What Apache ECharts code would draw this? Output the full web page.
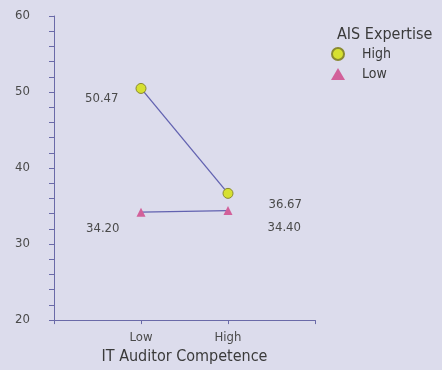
<!DOCTYPE html>
<html><head><meta charset="utf-8">
<script src="https://cdn.jsdelivr.net/npm/echarts@6/dist/echarts.min.js"></script>
<style>html,body{margin:0;padding:0;background:#dcdcec;}#c{width:442px;height:370px;}</style>
</head><body><div id="c"></div>
<script>
var categories = ['Low', 'High'];
var categoryPos = [1, 2];
var seriesNames = ['High', 'Low'];
var highValues = [50.47, 36.67];
var lowValues = [34.20, 34.40];
var legendTitle = 'AIS Expertise';
var xAxisName = 'IT Auditor Competence';

var FONT = '"DejaVu Sans Condensed", "Liberation Sans Narrow", sans-serif';
var chart = echarts.init(document.getElementById('c'));

function build(vals, positions) {
  return vals.map(function (v, i) {
    var p = positions[i];
    return {
      value: [categoryPos[i], v],
      label: {
        show: true,
        position: p.pos,
        offset: p.off,
        formatter: function () { return v.toFixed(2); },
        color: '#4a4a4a', fontSize: 13, fontFamily: FONT
      }
    };
  });
}

chart.setOption({
  backgroundColor: '#dcdcec',
  animation: false,
  title: {
    text: legendTitle, left: 332, top: 22,
    textStyle: { fontSize: 16, fontWeight: 'normal', color: '#3a3a3a', fontFamily: FONT }
  },
  legend: {
    orient: 'vertical', left: 326, top: 42, itemGap: 6, itemWidth: 14, itemHeight: 12,
    data: [
      { name: seriesNames[0], icon: 'circle' },
      { name: seriesNames[1], icon: 'triangle' }
    ],
    textStyle: { fontSize: 14, color: '#3a3a3a', fontFamily: FONT, padding: [0, 0, 0, 12] }
  },
  grid: { left: 54, top: 16, right: 127, bottom: 48 },
  xAxis: {
    type: 'value', min: 0, max: 3, interval: 1,
    name: xAxisName, nameLocation: 'middle', nameGap: 27,
    nameTextStyle: { fontSize: 16, color: '#3a3a3a', fontFamily: FONT },
    axisLine: { lineStyle: { color: '#6a6aa8', width: 1 } },
    axisTick: { show: true, length: 4, lineStyle: { color: '#6a6aa8' } },
    axisLabel: {
      fontSize: 13, color: '#4a4a4a', fontFamily: FONT, margin: 11,
      formatter: function (v) { var i = categoryPos.indexOf(v); return i >= 0 ? categories[i] : ''; }
    },
    splitLine: { show: false }
  },
  yAxis: {
    type: 'value', min: 20, max: 60, interval: 10,
    axisLine: { show: true, lineStyle: { color: '#6a6aa8', width: 1 } },
    axisTick: { show: true, length: 5, lineStyle: { color: '#6a6aa8' } },
    minorTick: { show: true, splitNumber: 5, length: 5, lineStyle: { color: '#6a6aa8' } },
    axisLabel: { fontSize: 13, color: '#4a4a4a', fontFamily: FONT, margin: 24 },
    splitLine: { show: false }
  },
  series: [
    {
      name: seriesNames[0], type: 'line', symbol: 'circle', symbolSize: 10,
      itemStyle: { color: '#d6e030', borderColor: '#8a8a30', borderWidth: 1 },
      lineStyle: { color: '#6262b0', width: 1.3 },
      data: build(highValues, [
        { pos: 'left', off: [-12, 10] },
        { pos: 'right', off: [30, 11] }
      ])
    },
    {
      name: seriesNames[1], type: 'line', symbol: 'triangle', symbolSize: 9,
      itemStyle: { color: '#d2609a', borderWidth: 0 },
      lineStyle: { color: '#6262b0', width: 1.3 },
      data: build(lowValues, [
        { pos: 'left', off: [-12, 16] },
        { pos: 'right', off: [30, 17] }
      ])
    }
  ]
});
</script>
</body></html>
